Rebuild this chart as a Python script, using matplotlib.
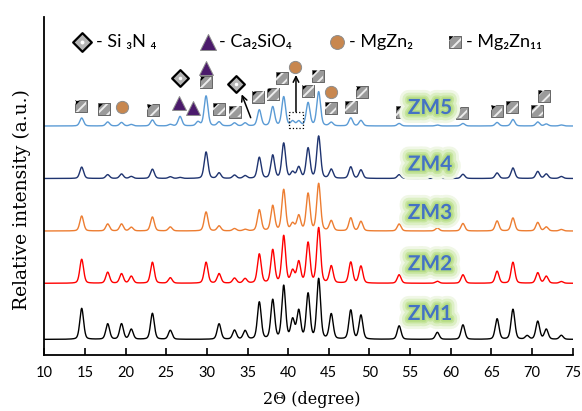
import numpy as np
import matplotlib.pyplot as plt
from matplotlib import patheffects as pe
from matplotlib.markers import MarkerStyle
from matplotlib.path import Path
from matplotlib.patches import Rectangle

plt.rcParams['hatch.color'] = '#ececec'
plt.rcParams['hatch.linewidth'] = 1.4

# peak positions (2theta, degree) shared by all patterns
peak_pos = [14.6, 17.8, 19.5, 20.7, 23.3, 25.5, 26.7, 28.9, 29.9, 31.5, 33.4, 34.7,
            36.45, 38.1, 39.45, 40.55, 41.3, 42.45, 43.75, 45.3, 47.7, 48.95,
            53.65, 58.35, 61.5, 65.7, 67.65, 69.4, 70.7, 71.75, 73.6]

# peak heights (a.u.)
zm1 = [31, 15.5, 15.5, 10, 26, 9, 0, 0, 0, 15.5, 9, 8.5,
       37, 39, 53, 19, 28, 45, 60, 25, 29, 24,
       13.5, 7, 14.5, 20.5, 30, 3.5, 18, 10, 4]
zm2 = [24, 11, 9.5, 7, 21, 5.5, 0, 0, 21, 9.5, 5, 4.5,
       29, 33, 47, 12, 21, 40, 55, 17, 21, 17,
       8.5, 2, 8.5, 12, 21, 0, 10.5, 7, 1.7]
zm3 = [15, 7, 7, 3.7, 14, 4, 0, 0, 19, 5, 2.3, 1.5,
       21, 25, 41, 7, 15, 37, 47, 10, 13, 9.5,
       7, 3, 7.5, 10, 13, 0, 8.5, 4, 1.5]
zm4 = [11.4, 3.8, 4.5, 2, 9.3, 1.7, 1, 0, 26.5, 5.5, 3.3, 2.7,
       21, 23, 35, 6, 11, 30, 42, 9, 11.5, 8.5,
       3.8, 1.5, 4.2, 5.5, 10.5, 0, 7, 4.5, 2]
zm5 = [8, 4, 3.5, 1.5, 6, 1.5, 9.5, 4, 30, 4, 3, 3,
       16, 19, 29, 4.5, 4.5, 23, 34, 3.5, 8, 5.5,
       2.5, 1, 2.5, 3.5, 6.5, 0, 4, 2, 1]

samples = ['ZM1', 'ZM2', 'ZM3', 'ZM4', 'ZM5']
patterns = [zm1, zm2, zm3, zm4, zm5]
offsets = [15.6, 71.7, 124, 176.5, 229]
colors = ['black', '#ff0000', '#ed7d31', '#1f3470', '#5b9bd5']

# phase markers on ZM5 (2theta, height)
mg2zn11 = [(14.48, 249), (17.38, 245.7), (23.37, 245), (29.85, 272.7), (31.49, 245.7),
           (33.46, 243.3), (36.32, 258.3), (38.13, 261), (39.2, 276.7), (42.47, 264),
           (43.63, 279), (45.23, 246.7), (47.69, 248.3), (49.04, 262.7), (53.96, 243.3),
           (61.34, 242.3), (65.65, 244), (67.56, 247.7), (70.64, 244.3), (71.5, 259)]
mgzn2 = [(19.52, 247.7), (40.78, 288.3), (45.23, 263.3)]
ca2sio4 = [(26.6, 251.7), (28.33, 246.7), (29.85, 286.7)]
si3n4 = [(26.69, 277.3), (33.54, 270.7)]


def profile(x, pos, amp, fwhm=0.55, eta=0.3):
    y = np.zeros_like(x)
    for p, a in zip(pos, amp):
        d = (x - p) / fwhm
        y += a * (eta / (1 + 4 * d ** 2) + (1 - eta) * np.exp(-4 * np.log(2) * d ** 2))
    return y


fig = plt.figure(figsize=(5.82, 4.11), dpi=100)
ax = fig.add_axes([44.3 / 582, 56 / 411, 528.4 / 582, 338 / 411])

tt = np.linspace(10, 75, 4000)
for name, amp, off, c in zip(samples, patterns, offsets, colors):
    ax.plot(tt, off + profile(tt, peak_pos, amp), color=c, lw=1.0)

glow = [pe.Stroke(linewidth=13, foreground='#f0f7e6'),
        pe.Stroke(linewidth=9, foreground='#dcefc4'),
        pe.Stroke(linewidth=5, foreground='#c6e59e'),
        pe.Stroke(linewidth=2.5, foreground='#b6dc84'),
        pe.Normal()]
label_y = [41, 90.7, 142, 190.4, 247]
for name, ly in zip(samples, label_y):
    ax.text(57.45, ly, name, color='#4472c4', fontsize=15, fontweight='bold',
            family='Lato', ha='center', va='center', path_effects=glow, zorder=8)

corner = MarkerStyle(Path([(-1, 1), (-0.3, 1), (-1, 0.3), (-1, 1)]))


def squares(pts, size=8):
    xs = [p[0] for p in pts]
    ys = [p[1] for p in pts]
    ax.scatter(xs, ys, s=size ** 2, marker='s', facecolor='#9a9a9a',
               edgecolor='#555555', linewidth=0.6, zorder=5)
    ax.scatter(xs, ys, s=size ** 2, marker='s', facecolor='none',
               edgecolor='#ececec', linewidth=0, hatch='///', zorder=6)
    ax.scatter(xs, ys, s=size ** 2, marker=corner, color='black', linewidth=0, zorder=7)


def circles(pts, size=8.8):
    ax.scatter([p[0] for p in pts], [p[1] for p in pts], s=size ** 2, marker='o',
               facecolor='#c8874f', edgecolor='#8c8c8c', linewidth=0.7, zorder=5)


def triangles(pts, size=10):
    ax.scatter([p[0] for p in pts], [p[1] for p in pts], s=size ** 2, marker='^',
               facecolor='#4b1a6b', edgecolor='#8c8c8c', linewidth=0.7, zorder=5)


def diamonds(pts, size=8.5):
    xs = [p[0] for p in pts]
    ys = [p[1] for p in pts]
    ax.scatter(xs, ys, s=size ** 2, marker='D', facecolor='#b5b5b5',
               edgecolor='black', linewidth=1.6, zorder=5)
    ax.scatter(xs, ys, s=(size * 0.3) ** 2, marker='o', facecolor='white',
               linewidth=0, zorder=6)


squares(mg2zn11)
circles(mgzn2)
triangles(ca2sio4)
diamonds(si3n4)

# legend row
leg_y = 313
diamonds([(14.64, leg_y)], size=9.5)
triangles([(30.1, leg_y)], size=11.5)
circles([(46.0, leg_y)], size=10)
squares([(60.5, leg_y)], size=9)
leg_font = dict(fontsize=13, family=['Lato', 'DejaVu Sans'], va='center', ha='left')
ax.text(16.3, leg_y, '- Si \u2083N \u2084', **leg_font)
ax.text(31.5, leg_y, '- Ca\u2082SiO\u2084', **leg_font)
ax.text(47.5, leg_y, '- MgZn\u2082', **leg_font)
ax.text(61.9, leg_y, '- Mg\u2082Zn\u2081\u2081', **leg_font)

# arrows and dotted box
arrow = dict(arrowstyle='->', color='black', lw=1.1, shrinkA=0, shrinkB=0)
ax.annotate('', xy=(34.28, 260.7), xytext=(35.39, 237.3), arrowprops=arrow)
ax.annotate('', xy=(40.96, 280), xytext=(40.96, 243.3), arrowprops=arrow)
ax.add_patch(Rectangle((40.14, 227.3), 1.72, 15.4, fill=False, ls=':', lw=0.9,
                       edgecolor='black', zorder=4))

ax.set_xlim(10, 75)
ax.set_ylim(0, 338)
ax.set_xticks(np.arange(10, 76, 5))
ax.set_yticks([])
ax.tick_params(axis='x', direction='in', length=5, width=1.2, pad=8, labelsize=10.5)
for lab in ax.get_xticklabels():
    lab.set_family('Lato')
for s in ['top', 'right']:
    ax.spines[s].set_visible(False)
for s in ['left', 'bottom']:
    ax.spines[s].set_linewidth(1.3)

fig.text(312 / 582, 1 - 399 / 411, '2\u0398 (degree)', family='DejaVu Serif',
         fontsize=11.5, ha='center', va='center')
fig.text(22 / 582, 1 - 200 / 411, 'Relative intensity (a.u.)', family='DejaVu Serif',
         fontsize=13.5, rotation=90, ha='center', va='center')

fig.savefig('out.png', dpi=100)
